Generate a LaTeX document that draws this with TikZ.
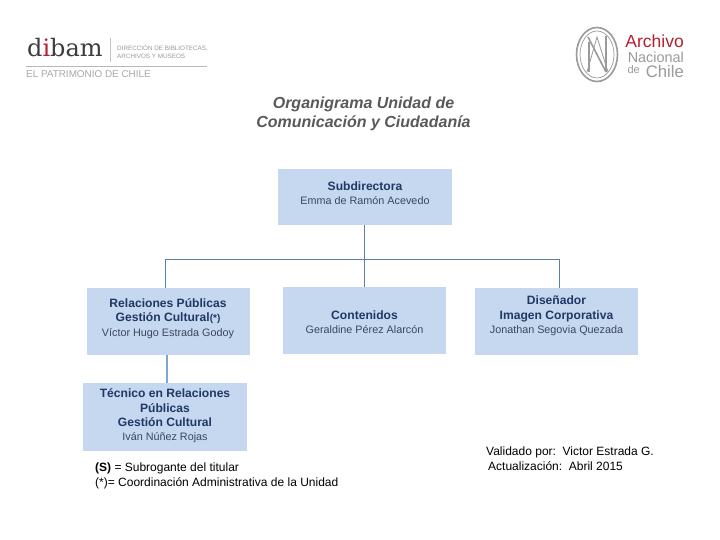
\documentclass[tikz,border=0pt]{standalone}
\usepackage{fontspec}
\setmainfont{Liberation Sans}
\newfontfamily\logoserif{DejaVu Serif}
\definecolor{boxfill}{HTML}{C6D7F0}
\definecolor{boxtitle}{HTML}{1F3864}
\definecolor{boxname}{HTML}{3A4660}
\definecolor{conn}{HTML}{5A80B0}
\definecolor{conntwo}{HTML}{7FA6CC}
\definecolor{titlegray}{HTML}{595959}
\definecolor{logogray}{HTML}{9A9A9A}
\definecolor{logodark}{HTML}{3C3C3C}
\definecolor{logored}{HTML}{B5202E}
\tikzset{
  orgbox/.style={fill=boxfill,draw=none,inner sep=0pt,minimum width=163pt,minimum height=67pt},
  boxtext/.style={align=center,inner sep=0pt,text=boxtitle,font=\fontsize{12.1}{14.3}\selectfont},
  link/.style={draw=conn,line width=1pt},
  plain/.style={inner sep=0pt,anchor=west,align=left,text=black,font=\fontsize{12}{14.5}\selectfont},
  logotext/.style={inner sep=0pt,anchor=base east,text=logogray}
}
\newcommand{\ttl}[1]{{\bfseries #1}}
\newcommand{\who}[1]{{\color{boxname}\fontsize{10.8}{14}\selectfont #1}}
\begin{document}
\begin{tikzpicture}[x=1pt,y=-1pt]
\useasboundingbox (0,0) rectangle (720,540);
\fill[white] (0,0) rectangle (720,540);
% dibam logo
\node[inner sep=0pt,anchor=base west,text=logodark,font=\logoserif\fontsize{24}{24}\selectfont] (dibamlogo) at (27,57) {d\textcolor{logored}{i}bam};
\draw[logogray!60,line width=0.5pt] (110,38) -- (110,62);
\node[inner sep=0pt,anchor=west,align=left,text=logogray,font=\fontsize{6.3}{8}\selectfont] (dibamsub) at (117,52) {DIRECCIÓN DE BIBLIOTECAS,\\ARCHIVOS Y MUSEOS};
\draw[logogray!70,line width=0.6pt] (26,66.5) -- (207,66.5);
\node[inner sep=0pt,anchor=west,text=logogray!85,font=\fontsize{9.9}{10}\selectfont] (dibampat) at (26,74.5) {EL PATRIMONIO DE CHILE};
% Archivo logo
\draw[logogray,line width=1.6pt] (597,54.5) ellipse (20.5 and 27);
\draw[logogray,line width=0.7pt] (597,54.5) ellipse (17 and 23.5);
\draw[logogray,line width=1.2pt] (589,72) -- (589,42);
\draw[logogray,line width=1.6pt] (588,37) -- (606,72);
\draw[logogray,line width=1.2pt] (606,72) -- (606,36);
\draw[logogray,line width=0.8pt] (587,72) -- (597,37) -- (608,72);
\node[logotext,text=logored,font=\fontsize{17.5}{18}\selectfont] (arch) at (684,47.7) {Archivo};
\node[logotext,font=\fontsize{14.4}{18}\selectfont] (naci) at (684,62.7) {Nacional};
\node[logotext,font=\fontsize{16.7}{18}\selectfont] (chile) at (684,77.5) {Chile};
\node[logotext,font=\fontsize{11}{12}\selectfont] (de) at (640,74) {de};
% title
\node[inner sep=0pt,align=center,text=titlegray,font=\bfseries\itshape\fontsize{16}{19}\selectfont] (title) at (363.5,114) {Organigrama Unidad de\\Comunicación y Ciudadanía};
% boxes
\node[orgbox,minimum width=174pt,minimum height=56pt] (sub) at (365,197) {};
\node[boxtext] (subt) at (365,193) {\ttl{Subdirectora}\\\who{Emma de Ramón Acevedo}};
\node[orgbox] (rp) at (168.5,321.5) {};
\node[boxtext] (rpt) at (168,318.5) {\ttl{Relaciones Públicas}\\\ttl{Gestión Cultural{\fontsize{10}{12}\selectfont(*)}}\\\who{Víctor Hugo Estrada Godoy}};
\node[orgbox] (con) at (364.5,320.5) {};
\node[boxtext] (cont) at (364.5,322.5) {\ttl{Contenidos}\\\who{Geraldine Pérez Alarcón}};
\node[orgbox] (dis) at (556.5,321.5) {};
\node[boxtext] (dist) at (556.5,316) {\ttl{Diseñador}\\\ttl{Imagen Corporativa}\\\who{Jonathan Segovia Quezada}};
\node[orgbox,minimum width=164pt,minimum height=68pt] (tec) at (165,417) {};
\node[boxtext] (tect) at (165,416) {\ttl{Técnico en Relaciones}\\\ttl{Públicas}\\\ttl{Gestión Cultural}\\\who{Iván Núñez Rojas}};
% connectors
\coordinate (bus) at (364.5,259.5);
\coordinate (busl) at (165.5,259.5);
\coordinate (busr) at (559,259.5);
\draw[link] (bus |- sub.south) -- (bus |- con.north);
\draw[link] (busl |- rp.north) -- (busl) -- (busr) -- (busr |- dis.north);
\coordinate (ta) at (167,0);
\draw[draw=conntwo,line width=1.2pt] (ta |- rp.south) -- (ta |- tec.north);
% notes
\node[plain] (n1) at (95,468.5) {\textbf{(S)} = Subrogante del titular};
\node[plain] (n2) at (95,483) {(*)= Coordinación Administrativa de la Unidad};
\node[plain] (v1) at (486,452) {Validado por:\ \ Victor Estrada G.};
\node[plain] (v2) at (488,466) {Actualización:\ \ Abril 2015};
\end{tikzpicture}
\end{document}
